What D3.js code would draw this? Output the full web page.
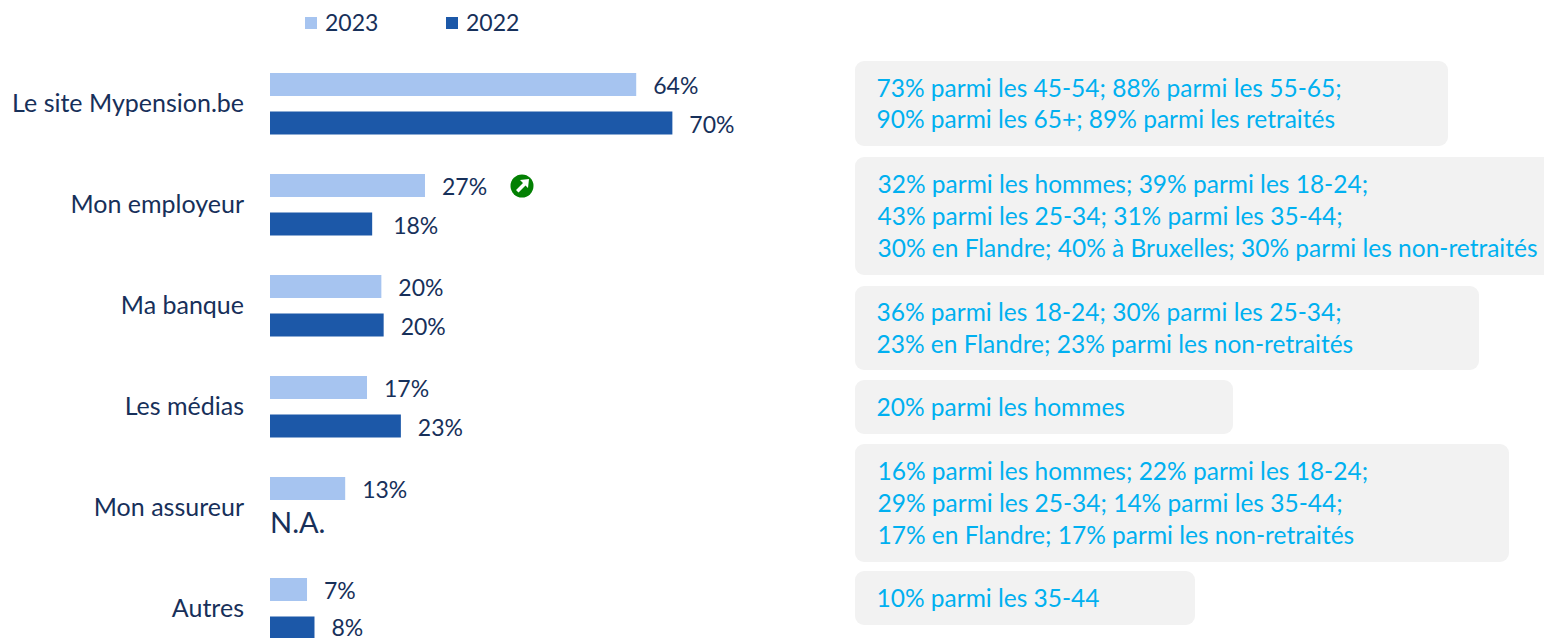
<!DOCTYPE html>
<html><head><meta charset="utf-8">
<script src="https://cdn.jsdelivr.net/npm/d3@7/dist/d3.min.js"></script>
<style>html,body{margin:0;padding:0;background:#fff}svg{display:block}text{font-family:Lato,"Open Sans",sans-serif}</style>
</head><body><svg id="c" width="1544" height="638"></svg>
<script>
const categories=["Le site Mypension.be","Mon employeur","Ma banque","Les médias","Mon assureur","Autres"];
const series=["2023","2022"];
const values2023=[63.8,27,19.4,16.9,13.1,6.45];
const values2022=[70.1,17.8,19.8,22.8,null,7.75];
const labels2023=["64%","27%","20%","17%","13%","7%"];
const labels2022=["70%","18%","20%","23%","N.A.","8%"];
const notes=[
 ["73% parmi les 45-54; 88% parmi les 55-65;","90% parmi les 65+; 89% parmi les retraités"],
 ["32% parmi les hommes; 39% parmi les 18-24;","43% parmi les 25-34; 31% parmi les 35-44;","30% en Flandre; 40% à Bruxelles; 30% parmi les non-retraités"],
 ["36% parmi les 18-24; 30% parmi les 25-34;","23% en Flandre; 23% parmi les non-retraités"],
 ["20% parmi les hommes"],
 ["16% parmi les hommes; 22% parmi les 18-24;","29% parmi les 25-34; 14% parmi les 35-44;","17% en Flandre; 17% parmi les non-retraités"],
 ["10% parmi les 35-44"]];
const noteBoxes=[[855,61,593,85],[855,157,700,118],[855,286,624,84],[855,380,378,54],[855,444,654,118],[855,571,340,54]];
const colors=["#a6c4f0","#1c58a8"],ink="#17305a",noteInk="#00b0f0",noteBg="#f2f2f2";
const fs=23, cfs=25, nfs=24.5;
const svg=d3.select("#c");
const x=d3.scaleLinear().domain([0,100]).range([270,844]);
const y=d3.scaleBand().domain(categories).range([53,659]).paddingInner(0).paddingOuter(0);
const inner=d3.scaleBand().domain(series).range([20,81.5]).paddingInner(0.4026).paddingOuter(0);
// legend
const legX=[304,445];
series.forEach((s,i)=>{
  svg.append("rect").attr("x",legX[i]+1).attr("y",17).attr("width",12).attr("height",12).attr("fill",colors[i]);
  svg.append("text").attr("x",legX[i]+21).attr("y",31).attr("font-size",fs).attr("fill",ink).text(s);
});
// category labels
svg.selectAll(".cat").data(categories).join("text").attr("class","cat")
  .attr("x",244).attr("y",c=>y(c)+51+8).attr("text-anchor","end").attr("font-size",cfs).attr("fill",ink).text(c=>c);
// bars and labels
[[values2023,labels2023],[values2022,labels2022]].forEach(([vals,labs],si)=>{
  const s=series[si];
  categories.forEach((c,i)=>{
    const yy=y(c)+inner(s),h=inner.bandwidth();
    if(vals[i]==null){
      svg.append("text").attr("x",270).attr("y",yy+h/2+6).attr("font-size",29).attr("fill",ink).text(labs[i]);
      return;
    }
    svg.append("rect").attr("x",x(0)).attr("y",yy).attr("width",x(vals[i])-x(0)).attr("height",h).attr("fill",colors[si]);
    const nudge=(si==1&&i==1)?4:0;
    svg.append("text").attr("x",x(vals[i])+17+nudge).attr("y",Math.min(yy+h/2+10,636)).attr("font-size",fs).attr("fill",ink).text(labs[i]);
  });
});
// trend marker
const mk=svg.append("g").attr("transform","translate(522,186)");
mk.append("circle").attr("r",11.5).attr("fill","#038003");
mk.append("path").attr("d","M-6,4 L1,-3 L-2,-6 L7,-7 L6,2 L3.5,-0.5 L-3.5,6.5 Z").attr("fill","#fff");
// notes
notes.forEach((lines,i)=>{
  const [bx,by,bw,bh]=noteBoxes[i];
  svg.append("rect").attr("x",bx).attr("y",by).attr("width",bw).attr("height",bh).attr("rx",9).attr("fill",noteBg);
  const lh=31.7, top=by+bh/2-(lines.length-1)*lh/2;
  lines.forEach((t,j)=>{
    svg.append("text").attr("x",bx+(i==1||i==4?22.5:21.5)).attr("y",top+j*lh+9).attr("font-size",nfs).attr("fill",noteInk).text(t);
  });
});
</script></body></html>
